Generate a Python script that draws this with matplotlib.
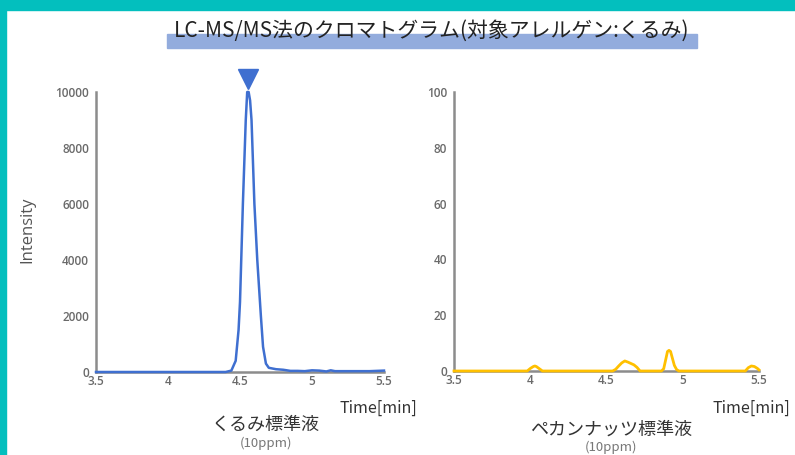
import matplotlib.pyplot as plt
from matplotlib.patches import Rectangle
import numpy as np

plt.rcParams['font.family'] = ['Open Sans', 'Noto Sans CJK JP', 'DejaVu Sans']

# くるみ標準液 (walnut standard)
walnut_t = [3.5, 4.40, 4.44, 4.47, 4.49, 4.50, 4.52, 4.54, 4.55, 4.56, 4.57, 4.58,
            4.60, 4.62, 4.645, 4.66, 4.68, 4.70, 4.75, 4.80, 4.85, 4.90, 4.95,
            5.00, 5.05, 5.10, 5.13, 5.16, 5.20, 5.30, 5.40, 5.50]
walnut_v = [0, 0, 50, 400, 1500, 2500, 6000, 9000, 10000, 10000, 9700, 9000,
            6000, 4000, 2000, 900, 300, 150, 100, 80, 40, 40, 30,
            60, 50, 20, 60, 30, 30, 30, 30, 50]

# ペカンナッツ標準液 (pecan standard)
pecan_t = [3.5, 3.98, 4.00, 4.02, 4.03, 4.04, 4.06, 4.08,
           4.54, 4.56, 4.58, 4.60, 4.62, 4.64, 4.66, 4.68, 4.70, 4.72,
           4.86, 4.875, 4.89, 4.90, 4.91, 4.92, 4.93, 4.945, 4.96, 4.975,
           5.41, 5.43, 5.45, 5.47, 5.49, 5.50]
pecan_v = [0, 0, 0.9, 1.6, 1.8, 1.6, 0.8, 0,
           0, 0.6, 1.8, 2.9, 3.6, 3.2, 2.7, 2.2, 1.3, 0,
           0, 0.8, 4.5, 7.0, 7.4, 7.0, 5.0, 2.0, 0.5, 0,
           0, 1.2, 1.8, 1.6, 0.9, 0.4]

blue = '#3F6FD0'
yellow = '#FFC000'
spine_c = '#8C8C8C'
tick_c = '#6A6A6A'
jp = ['Noto Sans CJK JP', 'DejaVu Sans']

fig = plt.figure(figsize=(7.95, 4.55), dpi=100)

# teal frame (left + top)
fig.patches.append(Rectangle((0, 0), 6 / 795, 1, transform=fig.transFigure,
                             color='#03BFBE', zorder=0))
fig.patches.append(Rectangle((0, 1 - 10 / 455), 1, 10 / 455, transform=fig.transFigure,
                             color='#03BFBE', zorder=0))

# title with highlight bar
fig.patches.append(Rectangle((167 / 795, 1 - 48 / 455), 530 / 795, 14 / 455,
                             transform=fig.transFigure, color='#93ACDD', zorder=1))
fig.text(0.543, 1 - 31 / 455, 'LC-MS/MS法のクロマトグラム(対象アレルゲン:くるみ)',
         ha='center', va='center', fontsize=15, color='#222222', fontweight='normal',
         family=jp, zorder=2)

ax1 = fig.add_axes([96 / 795, 1 - 372 / 455, 288 / 795, 280 / 455])
ax2 = fig.add_axes([454 / 795, 1 - 371 / 455, 305 / 795, 279 / 455])

for ax in (ax1, ax2):
    ax.set_xlim(3.5, 5.5)
    ax.set_xticks([3.5, 4, 4.5, 5, 5.5])
    ax.set_xticklabels(['3.5', '4', '4.5', '5', '5.5'])
    for s in ('top', 'right'):
        ax.spines[s].set_visible(False)
    for s in ('left', 'bottom'):
        ax.spines[s].set_color(spine_c)
        ax.spines[s].set_linewidth(1.8)
    ax.tick_params(length=0, colors=tick_c, labelsize=8.5, pad=5)
    ax.tick_params(axis='x', pad=2)
    for lab in ax.get_xticklabels() + ax.get_yticklabels():
        lab.set_fontweight('semibold')

ax1.set_ylim(0, 10000)
ax1.set_yticks([0, 2000, 4000, 6000, 8000, 10000])
ax1.plot(walnut_t, walnut_v, color=blue, lw=1.8, clip_on=False, zorder=5)
peak = int(np.argmax(walnut_v))
ax1.plot(walnut_t[peak] + 0.005, max(walnut_v) * 1.045, marker='v', ms=15,
         color=blue, clip_on=False, zorder=6)

ax2.set_ylim(0, 100)
ax2.set_yticks([0, 20, 40, 60, 80, 100])
ax2.plot(pecan_t, pecan_v, color=yellow, lw=2, clip_on=False, zorder=5,
         solid_joinstyle='round')

fig.text(27 / 795, 1 - 230 / 455, 'Intensity', rotation=90, ha='center', va='center',
         fontsize=12, color='#555555')
fig.text(378 / 795, 1 - 408 / 455, 'Time[min]', ha='center', va='center',
         fontsize=11.5, color='#333333', family=jp)
fig.text(751 / 795, 1 - 408 / 455, 'Time[min]', ha='center', va='center',
         fontsize=11.5, color='#333333', family=jp)

fig.text(266 / 795, 1 - 425 / 455, 'くるみ標準液', ha='center', va='center',
         fontsize=13, color='#333333', family=jp)
fig.text(266 / 795, 1 - 443 / 455, '(10ppm)', ha='center', va='center',
         fontsize=9.5, color='#777777', family=jp)
fig.text(611 / 795, 1 - 430 / 455, 'ペカンナッツ標準液', ha='center', va='center',
         fontsize=13, color='#333333', family=jp)
fig.text(611 / 795, 1 - 447 / 455, '(10ppm)', ha='center', va='center',
         fontsize=9.5, color='#777777', family=jp)

fig.savefig('out.png', dpi=100, facecolor='white')
